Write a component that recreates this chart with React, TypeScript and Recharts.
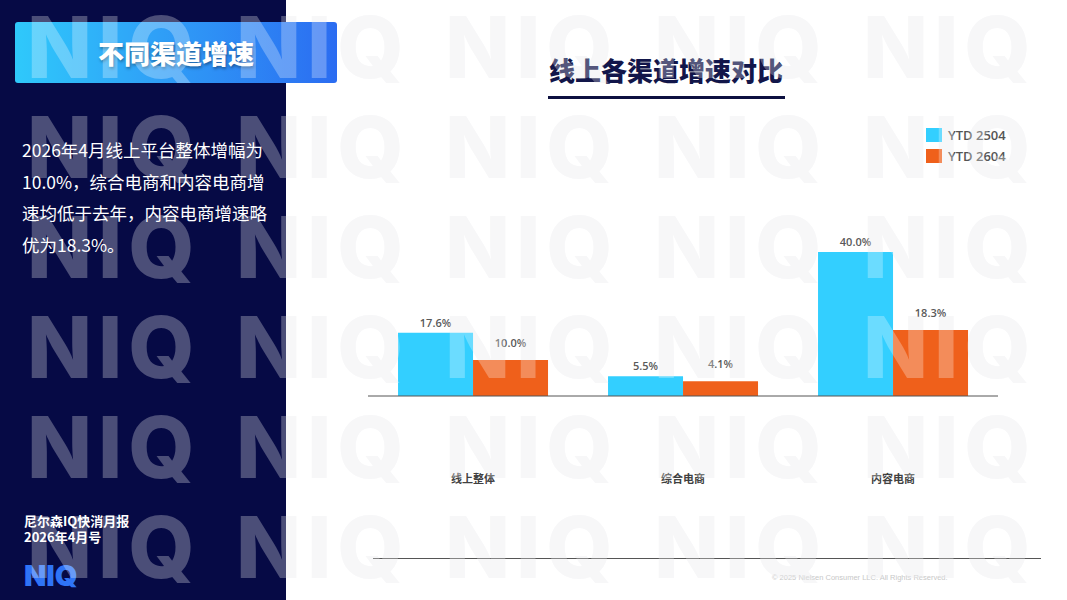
import React from 'react';
import { BarChart, Bar, XAxis, YAxis, LabelList } from 'recharts';

// chart values
const categories = ['线上整体', '综合电商', '内容电商'];
const ytd2504 = [17.6, 5.5, 40.0];
const ytd2604 = [10.0, 4.1, 18.3];
const seriesNames = ['YTD 2504', 'YTD 2604'];

const summaryLines = [
  '2026年4月线上平台整体增幅为',
  '10.0%，综合电商和内容电商增',
  '速均低于去年，内容电商增速略',
  '优为18.3%。',
];

const data = categories.map((name, i) => ({
  name,
  a: ytd2504[i],
  b: ytd2604[i],
}));

const CJK = '"Noto Sans CJK SC", "Noto Sans", sans-serif';
const LATIN = '"Open Sans", "Noto Sans CJK SC", sans-serif';
const NAVY = '#060a45';
const CYAN = '#33cfff';
const ORANGE = '#ef601b';
const seriesColors = [CYAN, ORANGE];

const pct = (v: any) => `${Number(v).toFixed(1)}%`;

const CategoryTick = ({ x, y, payload }: any) => (
  <text
    x={x}
    y={y + 82}
    textAnchor="middle"
    dominantBaseline="central"
    fontSize={11}
    fontWeight={700}
    fill="#404040"
    fontFamily={CJK}
  >
    {payload.value}
  </text>
);

// legend drawn beside the chart, top right
const LegendBox = () => (
  <div style={{ position: 'absolute', left: 926, top: 124 }}>
    {seriesNames.map((n, i) => (
      <div key={n} style={{ display: 'flex', alignItems: 'center', height: 21 }}>
        <span style={{ width: 16, height: 14, background: seriesColors[i], display: 'inline-block' }} />
        <span
          style={{
            marginLeft: 6,
            fontFamily: LATIN,
            fontSize: 13,
            fontWeight: 600,
            color: '#555',
          }}
        >
          {n}
        </span>
      </div>
    ))}
  </div>
);

// repeated NIQ watermark
function Watermark({ fill }: { fill: string }) {
  const marks = [];
  for (let r = 0; r < 6; r++) {
    for (let c = 0; c < 6; c++) {
      marks.push(
        <text
          key={`${r}-${c}`}
          x={27 + c * 209}
          y={78 + r * 100}
          fontFamily='Inter, "Liberation Sans", sans-serif'
          fontWeight={800}
          fontSize={85}
          letterSpacing={6}
          fill={fill}
        >
          NIQ
        </text>
      );
    }
  }
  return (
    <svg
      width={1067}
      height={600}
      style={{ position: 'absolute', left: 0, top: 0, pointerEvents: 'none' }}
    >
      {marks}
    </svg>
  );
}

export default function App() {
  return (
    <div
      style={{
        position: 'absolute',
        left: 0,
        top: 0,
        width: 1067,
        height: 600,
        background: '#fff',
        overflow: 'hidden',
        fontFamily: CJK,
      }}
    >
      <Watermark fill="#f4f4f6" />

      {/* left panel */}
      <div style={{ position: 'absolute', left: 0, top: 0, width: 286, height: 600, background: NAVY }} />
      <div
        style={{
          position: 'absolute',
          left: 15,
          top: 22,
          width: 322,
          height: 61,
          borderRadius: 3,
          background: 'linear-gradient(90deg, #2fc9fb 0%, #2f9ff7 45%, #2b6cf1 100%)',
          color: '#fff',
          fontSize: 26,
          fontWeight: 900,
          textAlign: 'center',
          lineHeight: '61px',
          textShadow: '1px 2px 3px rgba(0,0,0,0.35)',
        }}
      >
        不同渠道增速
      </div>
      <div
        style={{
          position: 'absolute',
          left: 22,
          top: 134,
          color: '#fff',
          fontSize: 17.5,
          lineHeight: '31.5px',
          whiteSpace: 'pre',
        }}
      >
        {summaryLines.map((l) => (
          <div key={l}>{l}</div>
        ))}
      </div>
      <div
        style={{
          position: 'absolute',
          left: 24,
          top: 513,
          color: '#fff',
          fontSize: 13,
          fontWeight: 700,
          lineHeight: '16px',
        }}
      >
        <div>尼尔森IQ快消月报</div>
        <div>2026年4月号</div>
      </div>
      <div
        style={{
          position: 'absolute',
          left: 24,
          top: 560,
          color: '#2f74f6',
          fontFamily: 'Inter, "Liberation Sans", sans-serif',
          fontSize: 29,
          fontWeight: 900,
          lineHeight: '32px',
        }}
      >
        NIQ
      </div>

      {/* right side title */}
      <div
        style={{
          position: 'absolute',
          left: 546,
          top: 52,
          width: 240,
          textAlign: 'center',
          color: '#12164a',
          fontSize: 26,
          fontWeight: 900,
          lineHeight: '36px',
        }}
      >
        线上各渠道增速对比
      </div>
      <div style={{ position: 'absolute', left: 548, top: 96, width: 237, height: 3, background: '#0d1040' }} />

      <LegendBox />

      <div style={{ position: 'absolute', left: 368, top: 100 }}>
        <BarChart
          width={630}
          height={396}
          data={data}
          margin={{ top: 152, right: 0, left: 0, bottom: 0 }}
          barCategoryGap="14.3%"
          barGap={0}
        >
          <XAxis
            dataKey="name"
            height={100}
            tickLine={false}
            tickSize={0}
            tickMargin={0}
            axisLine={{ stroke: '#555', strokeWidth: 1 }}
            tick={<CategoryTick />}
            interval={0}
          />
          <YAxis hide domain={[0, 40]} />
          <Bar dataKey="a" name={seriesNames[0]} fill={CYAN} isAnimationActive={false}>
            <LabelList
              dataKey="a"
              position="top"
              offset={6}
              formatter={pct}
              fill="#595959"
              fontSize={11}
              fontWeight={600}
              fontFamily={LATIN}
            />
          </Bar>
          <Bar dataKey="b" name={seriesNames[1]} fill={ORANGE} isAnimationActive={false}>
            <LabelList
              dataKey="b"
              position="top"
              offset={13}
              formatter={pct}
              fill="#595959"
              fontSize={11}
              fontWeight={600}
              fontFamily={LATIN}
            />
          </Bar>
        </BarChart>
      </div>

      {/* footer */}
      <div style={{ position: 'absolute', left: 373, top: 558, width: 668, height: 1, background: '#555' }} />
      <div
        style={{
          position: 'absolute',
          left: 772,
          top: 573,
          fontFamily: '"Liberation Sans", sans-serif',
          fontSize: 7.5,
          color: '#c8c8c8',
          whiteSpace: 'nowrap',
        }}
      >
        © 2025 Nielsen Consumer LLC. All Rights Reserved.
      </div>

      <Watermark fill="rgba(255,255,255,0.28)" />
    </div>
  );
}
